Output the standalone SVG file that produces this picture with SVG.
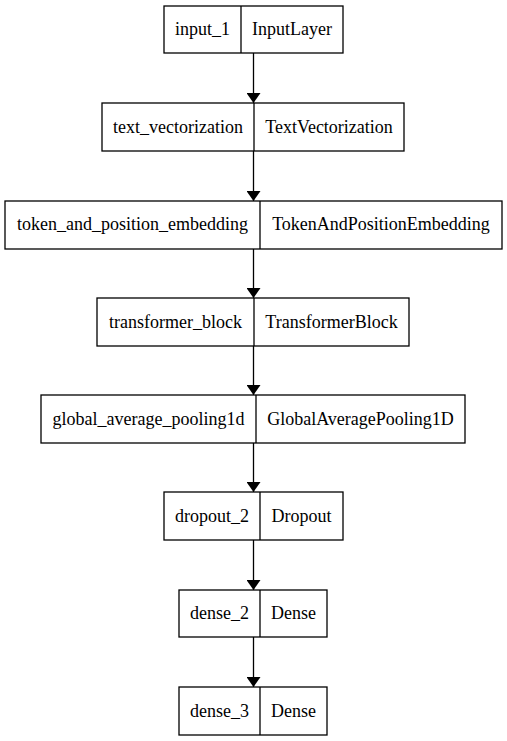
<svg xmlns="http://www.w3.org/2000/svg" width="507" height="741" viewBox="0 0 507 741">
<style>
.b{fill:none;stroke:#000;stroke-width:1.3}
.t{font-family:"Liberation Serif","Times New Roman",serif;font-size:18px;text-anchor:middle;fill:#000}
.e{stroke:#000;stroke-width:1.3;fill:none}
</style>
<defs>
<marker id="ah" markerWidth="10" markerHeight="14" refX="10" refY="5" orient="auto" markerUnits="userSpaceOnUse" viewBox="0 0 10 10" preserveAspectRatio="none">
<path d="M0,0 L10,5 L0,10 z" fill="#000"/>
</marker>
</defs>
<rect width="507" height="741" fill="#fff"/>
<g id="connectors">
<line class="e" x1="253.5" y1="53" x2="253.5" y2="103" marker-end="url(#ah)"/>
<line class="e" x1="253.5" y1="151" x2="253.5" y2="201" marker-end="url(#ah)"/>
<line class="e" x1="253.5" y1="249" x2="253.5" y2="298" marker-end="url(#ah)"/>
<line class="e" x1="253.5" y1="346" x2="253.5" y2="395" marker-end="url(#ah)"/>
<line class="e" x1="253.5" y1="443" x2="253.5" y2="492" marker-end="url(#ah)"/>
<line class="e" x1="253.5" y1="540" x2="253.5" y2="590" marker-end="url(#ah)"/>
<line class="e" x1="253.5" y1="637" x2="253.5" y2="687" marker-end="url(#ah)"/>
</g>
<g id="input_1">
<rect class="b" x="164" y="6" width="179" height="47"/>
<line class="b" x1="241" y1="6" x2="241" y2="53"/>
<text class="t" x="202.5" y="35">input_1</text>
<text class="t" x="292" y="35">InputLayer</text>
</g>
<g id="text_vectorization">
<rect class="b" x="102" y="103" width="302" height="48"/>
<line class="b" x1="254" y1="103" x2="254" y2="151"/>
<text class="t" x="178" y="132.5">text_vectorization</text>
<text class="t" x="329" y="132.5">TextVectorization</text>
</g>
<g id="token_and_position_embedding">
<rect class="b" x="5" y="201" width="497" height="48"/>
<line class="b" x1="260" y1="201" x2="260" y2="249"/>
<text class="t" x="132.5" y="230">token_and_position_embedding</text>
<text class="t" x="381" y="230">TokenAndPositionEmbedding</text>
</g>
<g id="transformer_block">
<rect class="b" x="97" y="298" width="312" height="48"/>
<line class="b" x1="254" y1="298" x2="254" y2="346"/>
<text class="t" x="175.5" y="327.5">transformer_block</text>
<text class="t" x="331.5" y="327.5">TransformerBlock</text>
</g>
<g id="global_average_pooling1d">
<rect class="b" x="41" y="395" width="424" height="48"/>
<line class="b" x1="256" y1="395" x2="256" y2="443"/>
<text class="t" x="148.5" y="424.5">global_average_pooling1d</text>
<text class="t" x="360.5" y="424.5">GlobalAveragePooling1D</text>
</g>
<g id="dropout_2">
<rect class="b" x="164" y="492" width="179" height="48"/>
<line class="b" x1="260" y1="492" x2="260" y2="540"/>
<text class="t" x="212" y="521.5">dropout_2</text>
<text class="t" x="301.5" y="521.5">Dropout</text>
</g>
<g id="dense_2">
<rect class="b" x="179" y="590" width="148" height="47"/>
<line class="b" x1="260" y1="590" x2="260" y2="637"/>
<text class="t" x="219.5" y="619">dense_2</text>
<text class="t" x="293.5" y="619">Dense</text>
</g>
<g id="dense_3">
<rect class="b" x="179" y="687" width="148" height="48"/>
<line class="b" x1="260" y1="687" x2="260" y2="735"/>
<text class="t" x="219.5" y="716.5">dense_3</text>
<text class="t" x="293.5" y="716.5">Dense</text>
</g>
</svg>
